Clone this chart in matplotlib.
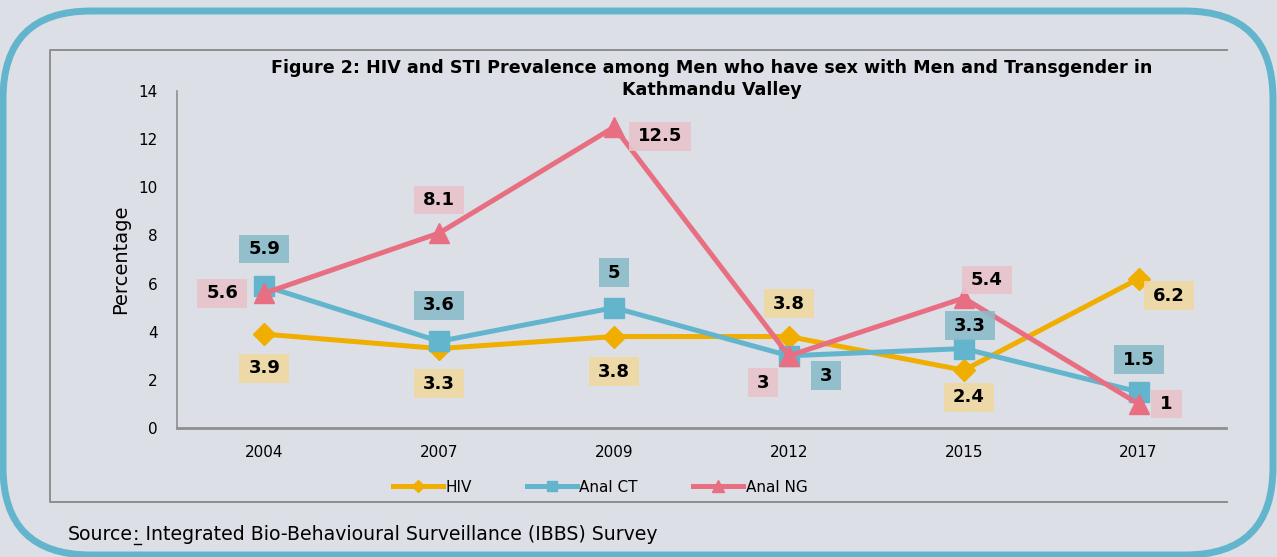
import matplotlib
matplotlib.use("Agg")
import matplotlib.pyplot as plt
from matplotlib.patches import FancyBboxPatch
from matplotlib.lines import Line2D
from matplotlib.path import Path

# data
years = ["2004", "2007", "2009", "2012", "2015", "2017"]
hiv = [3.9, 3.3, 3.8, 3.8, 2.4, 6.2]
anal_ct = [5.9, 3.6, 5.0, 3.0, 3.3, 1.5]
anal_ng = [5.6, 8.1, 12.5, 3.0, 5.4, 1.0]
hiv_txt = ["3.9", "3.3", "3.8", "3.8", "2.4", "6.2"]
ct_txt = ["5.9", "3.6", "5", "3", "3.3", "1.5"]
ng_txt = ["5.6", "8.1", "12.5", "3", "5.4", "1"]

# colours
bg = "#DCDFE6"
c_hiv = "#F0AE00"
c_ct = "#62B5CC"
c_ng = "#E86F82"
box_hiv = "#EFD9A2"
box_ct = "#8BBBCA"
box_ng = "#E8C3CB"
grey = "#8E8E8E"

# label offsets (pixels) for each point
off_hiv = [(0, -34), (0, -35), (0, -35), (0, 33), (5, -27), (30, -17)]
off_ct = [(0, 37), (0, 36), (0, 35), (37, -20), (6, 23), (0, 32)]
off_ng = [(-42, 0), (0, 33), (46, -9), (-26, -27), (23, 18), (28, 0)]

W, H = 1277, 557
fig = plt.figure(figsize=(W / 100, H / 100), dpi=100)
fig.patch.set_facecolor(bg)

# outer rounded teal frame (pixel coords)
frame = FancyBboxPatch((3, 2), 1270, 544, boxstyle="round,pad=0,rounding_size=88",
                       transform=None, facecolor="none", edgecolor=c_ct, linewidth=5, zorder=-2)
fig.patches.append(frame)
# inner chart frame (top, left, bottom)
fig.lines.append(Line2D([1227, 50, 50, 1227], [H - 50, H - 50, H - 502, H - 502],
                        transform=None, color=grey, lw=1.4, zorder=-1))

ax = fig.add_axes([177 / W, 1 - 428 / H, (1226 - 177) / W, (428 - 91) / H])
ax.set_facecolor("none")
x = list(range(len(years)))

ax.plot(x, hiv, color=c_hiv, lw=3.6, marker="D", ms=11, label="HIV", zorder=3)
ax.plot(x, anal_ct, color=c_ct, lw=3.6, marker="s", ms=14, label="Anal CT", zorder=4)
ax.plot(x, anal_ng, color=c_ng, lw=3.6, marker="^", ms=15, label="Anal NG", zorder=5)


def label_box(x0, y0, width, height, mutation_size):
    px = 0.5 * mutation_size
    py = 0.3 * mutation_size
    return Path([(x0 - px, y0 - py), (x0 + width + px, y0 - py),
                 (x0 + width + px, y0 + height + py), (x0 - px, y0 + height + py),
                 (x0 - px, y0 - py)], closed=True)


def labels(vals, txts, offs, boxc):
    for i, v in enumerate(vals):
        ax.annotate(txts[i], (x[i], v), xytext=offs[i], textcoords="offset pixels",
                    ha="center", va="center", fontsize=13, fontweight="bold", color="black",
                    bbox=dict(boxstyle=label_box, facecolor=boxc, edgecolor="none", alpha=0.9),
                    zorder=6)

labels(hiv, hiv_txt, off_hiv, box_hiv)
labels(anal_ct, ct_txt, off_ct, box_ct)
labels(anal_ng, ng_txt, off_ng, box_ng)

ax.set_xlim(-0.5, len(years) - 0.5)
ax.set_ylim(0, 14)
ax.set_yticks(range(0, 15, 2))
ax.set_xticks(x)
ax.set_xticklabels(years)
ax.tick_params(length=0, labelsize=11, pad=12)
ax.tick_params(axis="y", pad=14)
for s in ["top", "right"]:
    ax.spines[s].set_visible(False)
ax.spines["left"].set_color(grey)
ax.spines["bottom"].set_color(grey)
ax.spines["left"].set_linewidth(1.2)
ax.spines["bottom"].set_linewidth(2)
ax.set_ylabel("Percentage", fontsize=14, labelpad=6)

fig.text(712 / W, 1 - 79 / H,
         "Figure 2: HIV and STI Prevalence among Men who have sex with Men and Transgender in\nKathmandu Valley",
         ha="center", va="center", fontsize=12.6, fontweight="bold", linespacing=1.25)

fig.legend(loc="center", bbox_to_anchor=(600 / W, 1 - 487 / H), ncol=3, frameon=False,
           fontsize=11, handlelength=3.3, columnspacing=3.6, handletextpad=0.15,
           markerscale=0.55)

# source line, with the colon underlined
src1 = fig.text(68 / W, 1 - 535 / H, "Source", ha="left", va="center", fontsize=13.6)
fig.canvas.draw()
bb = src1.get_window_extent()
src2 = fig.text(bb.x1 / W, 1 - 535 / H, ": Integrated Bio-Behavioural Surveillance (IBBS) Survey",
                ha="left", va="center", fontsize=13.6)
fig.lines.append(Line2D([bb.x1 + 1, bb.x1 + 8], [bb.y0 + 1, bb.y0 + 1],
                        transform=None, color="black", lw=1))

fig.savefig("out.png", dpi=100, facecolor=bg)
